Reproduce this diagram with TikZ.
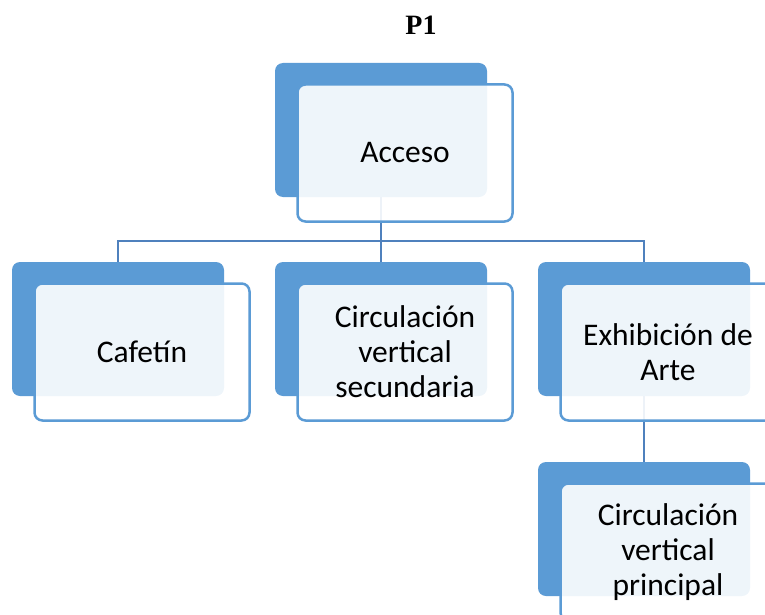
\documentclass[tikz,border=0pt]{standalone}
\usepackage{fontspec}
\setmainfont{Carlito}
\newfontfamily\titlefont{Liberation Serif}
\pgfdeclarelayer{bg}
\pgfsetlayers{bg,main}
\definecolor{backblue}{HTML}{5B9BD5}
\definecolor{lineblue}{HTML}{4F81BD}
\definecolor{edgeblue}{HTML}{5B9BD5}
\tikzset{
  backbox/.style={draw=none, fill=backblue, rounded corners=8pt, minimum width=212pt, minimum height=134pt, inner sep=0pt},
  frontbox/.style={draw=edgeblue, line width=2.5pt, fill=white, fill opacity=0.9, text opacity=1, rounded corners=8pt, minimum width=215pt, minimum height=137pt, inner sep=0pt, align=center, font=\fontsize{31.5}{35}\selectfont},
  link/.style={draw=lineblue, line width=2pt}
}
\begin{document}
\begin{tikzpicture}[x=1pt,y=-1pt]
\useasboundingbox (0,0) rectangle (765,615);
\node[font=\titlefont\bfseries\fontsize{28}{32}\selectfont, anchor=base] (title) at (421,35) {P1};
% back boxes
\node[backbox] (b0) at (381,130) {};
\node[backbox] (b1) at (118,329) {};
\node[backbox] (b2) at (381,329) {};
\node[backbox] (b3) at (644,329) {};
\node[backbox] (b4) at (644,529) {};
% front boxes
\node[frontbox] (f0) at (405,153) {Acceso};
\node[frontbox] (f1) at (142,352) {Cafetín};
\node[frontbox] (f2) at (405,352) {Circulación\\vertical\\secundaria};
\node[frontbox] (f3) at (668,352) {Exhibición de\\Arte};
\node[frontbox] (f4) at (668,552) {Circulación\\vertical\\principal};
\begin{pgfonlayer}{bg}
\coordinate (j) at (b0.south |- 0,241);
\draw[link] (b0.south) -- (j);
\draw[link] (b1.north) |- (j) -| (b3.north);
\draw[link] (j) -- (b2.north);
\draw[link] (b3.south) -- (b4.north);
\end{pgfonlayer}
\end{tikzpicture}
\end{document}
